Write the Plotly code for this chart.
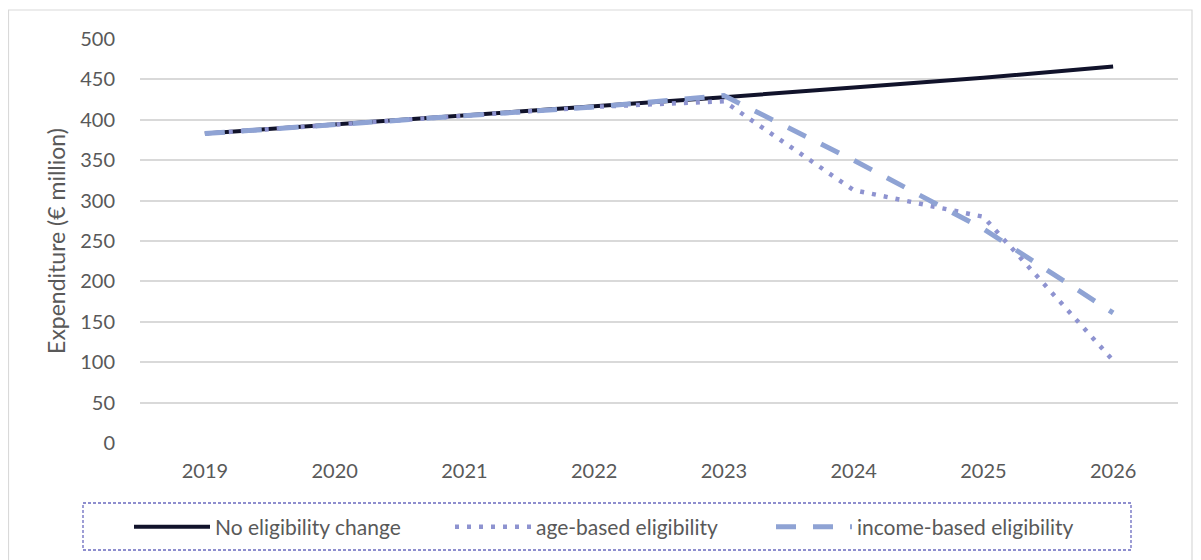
import plotly.graph_objects as go

years = ["2019", "2020", "2021", "2022", "2023", "2024", "2025", "2026"]
no_change = [383, 394, 405, 416, 428, 440, 452, 466]
age_based = [383, 394, 405, 416, 423, 313, 280, 102]
income_based = [383, 394, 405, 416, 430, 350, 265, 161]
y_ticks = [0, 50, 100, 150, 200, 250, 300, 350, 400, 450, 500]

FONT = "Lato"
TXT = "#595959"

fig = go.Figure()
fig.add_trace(go.Scatter(x=years, y=no_change, mode="lines", name="No eligibility change",
                         line=dict(color="#11132b", width=4)))
fig.add_trace(go.Scatter(x=years, y=age_based, mode="lines", name="age-based eligibility",
                         line=dict(color="#8e93d0", width=4.5, dash="4px,8px")))
fig.add_trace(go.Scatter(x=years, y=income_based, mode="lines", name="income-based eligibility",
                         line=dict(color="#8fa3d4", width=5, dash="20px,17px")))

# page offset: the browser body adds 8px margin
OFF = 8
W, H = 1185, 552
L, R, T, B = 140 - OFF, W - (1178 - OFF), 39 - OFF, H - (443 - OFF)
PW, PH = W - L - R, H - T - B


def px(x):
    return (x - OFF - L) / PW


def py(y):
    return (H - B - (y - OFF)) / PH


shapes = [
    dict(type="rect", xref="paper", yref="paper", x0=px(8.5), x1=px(1192), y0=py(575), y1=py(10),
         line=dict(color="#d9d9d9", width=1.2), fillcolor="rgba(0,0,0,0)", layer="below"),
    dict(type="rect", xref="paper", yref="paper", x0=px(83), x1=px(1131), y0=py(550), y1=py(503),
         line=dict(color="#6a6abf", width=1.3, dash="3px,2px"), fillcolor="rgba(0,0,0,0)"),
]

fig.update_layout(
    width=W, height=H,
    margin=dict(l=L, r=R, t=T, b=B),
    paper_bgcolor="white", plot_bgcolor="white",
    font=dict(family=FONT, size=20, color=TXT),
    showlegend=True,
    legend=dict(orientation="h", xanchor="left", x=px(129), yanchor="middle", y=py(527),
                font=dict(family=FONT, size=21, color=TXT), bgcolor="rgba(0,0,0,0)",
                itemwidth=76, entrywidth=230, tracegroupgap=0),
    shapes=shapes,
    xaxis=dict(type="category", range=[-0.5, 7.5], showgrid=False, zeroline=False,
               showline=False, ticks="outside", ticklen=10, tickcolor="rgba(0,0,0,0)",
               tickfont=dict(family=FONT, size=20, color=TXT)),
    yaxis=dict(range=[0, 500], tickvals=y_ticks, showgrid=True, gridcolor="#d9d9d9", gridwidth=1.5,
               zeroline=False, showline=False, ticks="outside", ticklen=20,
               tickcolor="rgba(0,0,0,0)", tickfont=dict(family=FONT, size=20, color=TXT),
               title=dict(text="Expenditure (€ million)", font=dict(family=FONT, size=23, color=TXT),
                          standoff=8)),
)

fig.write_html("out.html")
